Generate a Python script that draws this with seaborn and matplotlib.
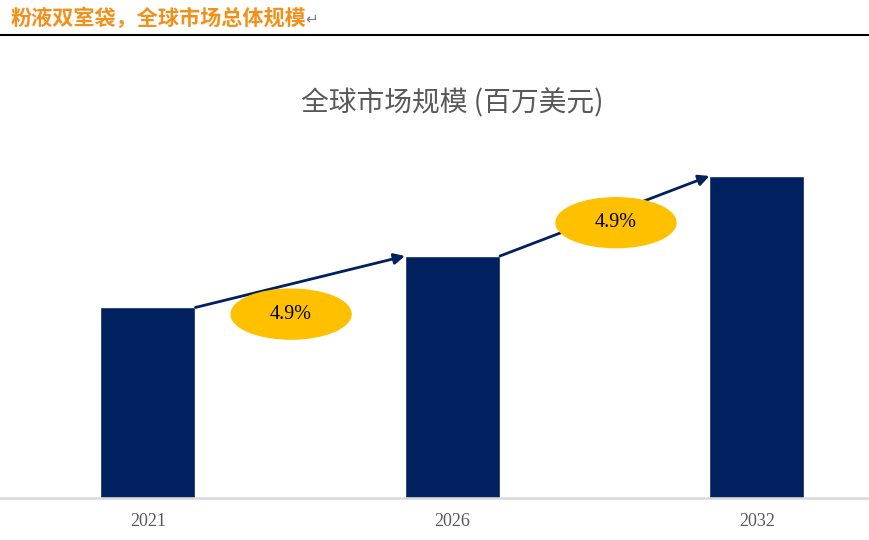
import numpy as np
import pandas as pd
import seaborn as sns
import matplotlib.pyplot as plt
from matplotlib.patches import Ellipse

sns.set_theme(style="white")
plt.rcParams["font.family"] = ["Noto Sans CJK SC", "DejaVu Sans"]

years = ["2021", "2026", "2032"]
market_size = [100, 127, 169]
growth_labels = ["4.9%", "4.9%"]

header = "粉液双室袋，全球市场总体规模"
chart_title = "全球市场规模 (百万美元)"

data = pd.DataFrame({"year": years, "size": market_size})

fig = plt.figure(figsize=(8.69, 5.4), dpi=100)
ax = fig.add_axes([0, 42 / 540, 1, 438 / 540])

bar_w = 0.312
sns.barplot(data=data, x="year", y="size", color="#002060", width=bar_w,
            saturation=1, ax=ax)

ax.set_xlim(-0.486, 2.368)
ax.set_ylim(0, max(market_size) * 438 / 322)
ax.set_xlabel("")
ax.set_ylabel("")
ax.set_yticks([])
for s in ["top", "left", "right"]:
    ax.spines[s].set_visible(False)
ax.spines["bottom"].set_color("#D9D9D9")
ax.spines["bottom"].set_linewidth(1.8)
ax.tick_params(axis="x", length=0, pad=11)
for lbl in ax.get_xticklabels():
    lbl.set_fontfamily("Liberation Serif")
    lbl.set_fontsize(13)
    lbl.set_color("#595959")

# growth arrows and CAGR bubbles
label_offsets = [(-0.03, -17), (0.037, -3.5)]
for i, txt in enumerate(growth_labels):
    x0, y0 = i + bar_w / 2, market_size[i]
    x1, y1 = i + 1 - bar_w / 2, market_size[i + 1]
    ax.annotate("", xy=(x1, y1), xytext=(x0, y0),
                arrowprops=dict(arrowstyle="-|>", color="#002060", lw=2,
                                mutation_scale=16, shrinkA=0, shrinkB=0))
    dx, dy = label_offsets[i]
    cx = i + 0.5 + dx
    cy = (y0 + y1) / 2 + dy
    ax.add_patch(Ellipse((cx, cy), 0.394, 26.2, color="#FFC000", zorder=4))
    ax.text(cx, cy, txt, ha="center", va="center", fontsize=14.5,
            family="Liberation Serif", color="black", zorder=5)

fig.text(452 / 869, 1 - 103 / 540, chart_title, ha="center", va="center",
         fontsize=20, color="#595959")

fig.text(0.012, 1 - 18 / 540, header, ha="left", va="center", fontsize=15.2,
         fontweight="bold", color="#F39019")
fig.text(305 / 869, 1 - 19 / 540, "↵", ha="left", va="center", fontsize=11,
         color="#808080", family="DejaVu Sans")
fig.add_artist(plt.Line2D([0, 1], [1 - 35 / 540, 1 - 35 / 540], color="black",
                          lw=1.5, transform=fig.transFigure))

fig.savefig("out.png", dpi=100)
